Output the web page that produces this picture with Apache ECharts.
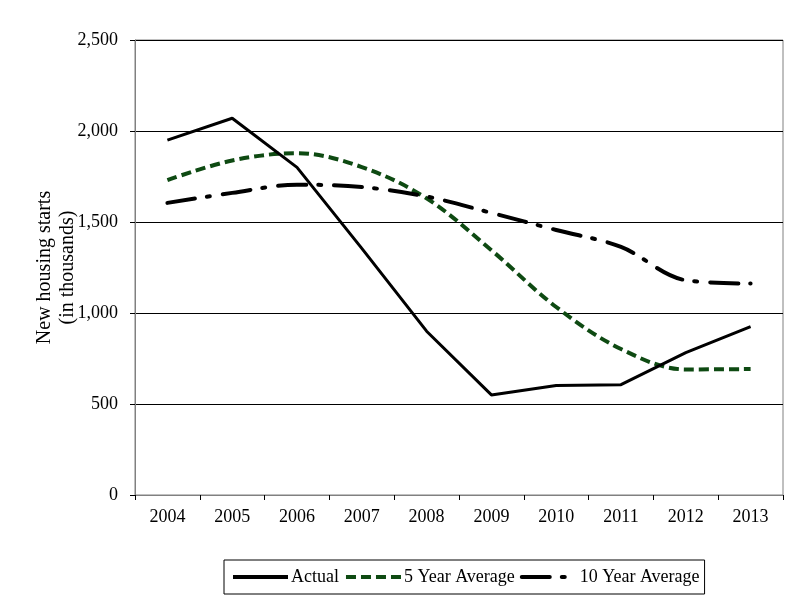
<!DOCTYPE html>
<html>
<head>
<meta charset="utf-8">
<script src="https://cdn.jsdelivr.net/npm/echarts@6/dist/echarts.min.js"></script>
<style>
html,body{margin:0;padding:0;background:#fff;}
#chart{width:804px;height:607px;}
</style>
</head>
<body>
<div id="chart"></div>
<script>
var years = ['2004','2005','2006','2007','2008','2009','2010','2011','2012','2013'];
var actual = [1950, 2070, 1800, 1355, 900, 550, 602, 606, 782, 925];
var fiveYearAvg = [1730, 1838, 1878, 1802, 1630, 1345, 1033, 802, 690, 692];
var tenYearAvg = [1605, 1660, 1705, 1692, 1640, 1550, 1456, 1363, 1180, 1162];
var yTicks = {min: 0, max: 2500, interval: 500};

var FONT = 'Liberation Serif';
var chart = echarts.init(document.getElementById('chart'));
chart.setOption({
  animation: false,
  backgroundColor: '#fff',
  grid: {left: 135, right: 21, top: 40, bottom: 112, show: true, borderColor: '#808080', borderWidth: 1, containLabel: false},
  xAxis: {
    type: 'category',
    data: years,
    boundaryGap: true,
    axisLine: {lineStyle: {color: '#808080', width: 1}},
    axisTick: {show: true, inside: false, length: 5, lineStyle: {color: '#000'}},
    axisLabel: {color: '#000', fontFamily: FONT, fontSize: 18, margin: 13},
    splitLine: {show: false}
  },
  yAxis: {
    type: 'value',
    min: yTicks.min, max: yTicks.max, interval: yTicks.interval,
    name: 'New housing starts\n(in thousands)',
    nameLocation: 'middle',
    nameRotate: 90,
    nameGap: 56,
    nameMoveOverlap: false,
    nameTextStyle: {color: '#000', fontFamily: FONT, fontSize: 20, lineHeight: 23},
    axisLine: {show: true, lineStyle: {color: '#808080', width: 1}},
    axisTick: {show: true, inside: false, length: 5, lineStyle: {color: '#000'}},
    axisLabel: {color: '#000', fontFamily: FONT, fontSize: 18, margin: 17,
      formatter: function(v){ return v.toLocaleString('en-US'); }},
    splitLine: {show: true, lineStyle: {color: '#000', width: 1}}
  },
  legend: {
    left: 224, top: 560,
    orient: 'horizontal',
    borderColor: '#000', borderWidth: 1,
    padding: [8, 5, 8, 7],
    itemGap: 5,
    itemWidth: 55, itemHeight: 8,
    itemStyle: {opacity: 0},
    lineStyle: {width: 4},
    textStyle: {color: '#000', fontFamily: FONT, fontSize: 18, padding: [0,0,0,-2]},
    data: ['Actual', '5 Year Average', '10 Year Average']
  },
  series: [
    {name: 'Actual', type: 'line', data: actual, symbol: 'none', smooth: false,
     lineStyle: {color: '#000', width: 3}, itemStyle: {color: '#000'}, z: 3},
    {name: '5 Year Average', type: 'line', data: fiveYearAvg, symbol: 'none', smooth: 0.35,
     lineStyle: {color: '#0e4a12', width: 4, type: [10, 5]}, itemStyle: {color: '#0e4a12'}, z: 2},
    {name: '10 Year Average', type: 'line', data: tenYearAvg, symbol: 'none', smooth: 0.35,
     lineStyle: {color: '#000', width: 4, type: [28, 12, 3, 13], cap: 'round'}, itemStyle: {color: '#000'}, z: 2}
  ]
});
</script>
</body>
</html>
